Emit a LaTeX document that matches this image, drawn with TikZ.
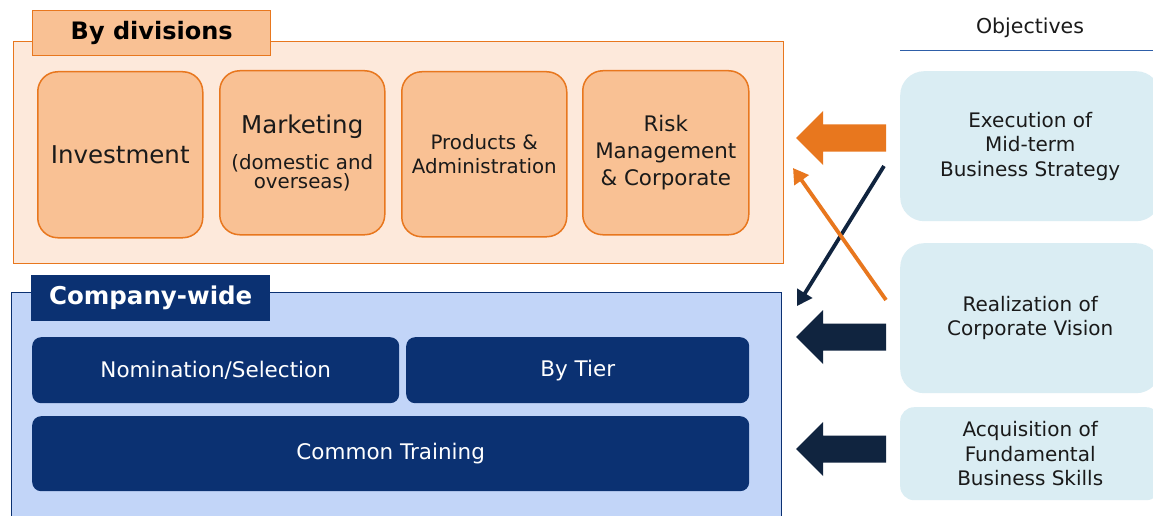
\documentclass[tikz,border=0pt]{standalone}
\usepackage{fontspec}
\setmainfont{DejaVu Sans}
\usetikzlibrary{arrows.meta}
\definecolor{orl}{HTML}{FDE9DB}
\definecolor{orb}{HTML}{E8771E}
\definecolor{orf}{HTML}{F9C194}
\definecolor{bll}{HTML}{C2D5F8}
\definecolor{bld}{HTML}{0B3172}
\definecolor{nav}{HTML}{10243F}
\definecolor{obj}{HTML}{DAEDF3}
\definecolor{txt}{HTML}{1A1A1A}
\definecolor{ln}{HTML}{2E5EA8}
\tikzset{
  panel/.style={draw, line width=1.4pt, inner sep=0pt, anchor=north west},
  divbox/.style={draw=orb, fill=orf, line width=1.5pt, rounded corners=20pt, inner sep=0pt, anchor=north west, align=center, text=txt},
  cwbox/.style={fill=bld, rounded corners=9pt, inner sep=0pt, anchor=north west, align=center, text=white, font=\fontsize{21.5}{26}\selectfont},
  objbox/.style={fill=obj, rounded corners=24pt, inner sep=0pt, anchor=north west, align=center, text=txt, font=\fontsize{20}{24.5}\selectfont},
  thin/.style={line width=3.8pt, -{Triangle[width=17pt,length=15pt]}},
}
\newcommand{\fatarrow}[3]{% x tip, y center, color
  \fill[#3] (#1,#2) -- (#1+27,#2+27) -- (#1+27,#2+13.5) -- (#1+90,#2+13.5) -- (#1+90,#2-13.5) -- (#1+27,#2-13.5) -- (#1+27,#2-27) -- cycle;}
\begin{document}
\begin{tikzpicture}[x=1pt,y=-1pt]
\clip (0,0) rectangle (1153,516);
\fill[white] (0,0) rectangle (1153,516);
% By divisions panel
\node[panel, draw=orb, fill=orl, minimum width=770pt, minimum height=222pt] (divp) at (13,41) {};
\node[panel, draw=orb, fill=orf, minimum width=238pt, minimum height=45pt, font=\bfseries\fontsize{24}{28}\selectfont, text=black] (divt) at (32,10) {By divisions};
\node[divbox, minimum width=165pt, minimum height=166pt, font=\fontsize{24.5}{28}\selectfont] (inv) at (37,71) {Investment};
\node[divbox, minimum width=165pt, minimum height=164pt] (mkt) at (219,70) {{\fontsize{24.5}{30}\selectfont Marketing}\\[15pt]{\fontsize{19.8}{25}\selectfont (domestic and}\\{\fontsize{19.8}{25}\selectfont overseas)}};
\node[divbox, minimum width=165pt, minimum height=165pt, font=\fontsize{19.8}{24}\selectfont] (prd) at (401,71) {Products \&\\Administration};
\node[divbox, minimum width=166pt, minimum height=164pt, font=\fontsize{21.4}{27}\selectfont] (rsk) at (582,70) {Risk\\Management\\\& Corporate};
% Company-wide panel
\node[panel, draw=bld, fill=bll, minimum width=770pt, minimum height=240pt] (cwp) at (11,292) {};
\node[panel, draw=bld, fill=bld, minimum width=238pt, minimum height=45pt, font=\bfseries\fontsize{24.5}{28}\selectfont, text=white] (cwt) at (31,275) {Company-wide};
\node[cwbox, minimum width=367pt, minimum height=66pt] (nom) at (32,337) {Nomination/Selection};
\node[cwbox, minimum width=343pt, minimum height=66pt] (tier) at (406,337) {By Tier};
\node[cwbox, minimum width=717pt, minimum height=75pt] (com) at (32,416) {Common Training};
% Objectives
\node[text=txt, font=\fontsize{20.5}{24}\selectfont] (objt) at (1030,28) {Objectives};
\coordinate (ol) at (900,50);
\coordinate (or) at (1153,50);
\draw[ln, line width=0.9pt] (ol) -- (or);
\node[objbox, minimum width=260pt, minimum height=150pt] (o1) at (900,71) {Execution of\\Mid-term\\Business Strategy};
\node[objbox, minimum width=260pt, minimum height=150pt] (o2) at (900,243) {Realization of\\Corporate Vision};
\node[objbox, rounded corners=14pt, minimum width=260pt, minimum height=93pt] (o3) at (900,407) {Acquisition of\\Fundamental\\Business Skills};
% fat arrows
\fatarrow{796}{138}{orb}
\fatarrow{796}{337}{nav}
\fatarrow{796}{449}{nav}
% thin crossing arrows
\coordinate (a1s) at (884,166);
\coordinate (a1e) at (797,306);
\coordinate (a2s) at (886,300);
\coordinate (a2e) at (793,168);
\draw[thin, nav] (a1s) -- (a1e);
\draw[thin, orb] (a2s) -- (a2e);
\end{tikzpicture}
\end{document}
